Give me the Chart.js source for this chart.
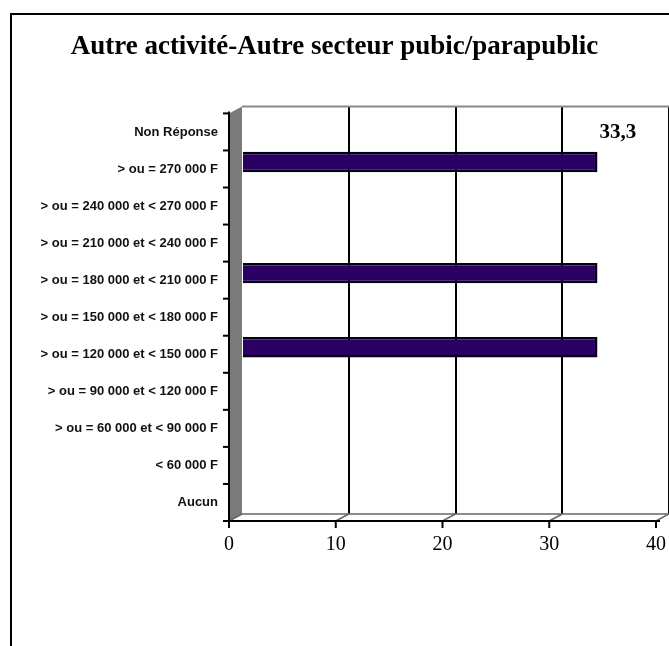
<!DOCTYPE html>
<html><head><meta charset="utf-8">
<script src="https://cdn.jsdelivr.net/npm/chart.js@4"></script>
<style>
html,body{margin:0;padding:0;background:#fff;overflow:hidden;}
#frame{position:absolute;left:10px;top:13px;width:720px;height:720px;border:2px solid #000;box-sizing:border-box;}
#wrap{position:absolute;left:0;top:0;width:669px;height:646px;}
</style></head>
<body>
<div id="frame"></div>
<div id="wrap"><canvas id="c" width="669" height="646"></canvas></div>
<script>
const titleText = "Autre activité-Autre secteur pubic/parapublic";
const categories = [
  "Non Réponse",
  "> ou = 270 000 F",
  "> ou = 240 000 et < 270 000 F",
  "> ou = 210 000 et < 240 000 F",
  "> ou = 180 000 et < 210 000 F",
  "> ou = 150 000 et < 180 000 F",
  "> ou = 120 000 et < 150 000 F",
  "> ou = 90 000 et < 120 000 F",
  "> ou = 60 000 et < 90 000 F",
  "< 60 000 F",
  "Aucun"
];
const values = [0, 33.3, 0, 0, 33.3, 0, 33.3, 0, 0, 0, 0];
const dataLabels = ["", "33,3", "", "", "", "", "", "", "", "", ""];
const xTicks = [0, 10, 20, 30, 40];

const DX = -13, DY = 7;

const depthPlugin = {
  id: 'depth',
  beforeDatasetsDraw(chart) {
    const ctx = chart.ctx, a = chart.chartArea;
    const xs = chart.scales.x;
    ctx.save();
    ctx.strokeStyle = '#888'; ctx.lineWidth = 2;
    ctx.beginPath(); ctx.moveTo(a.left, a.top); ctx.lineTo(a.right, a.top); ctx.stroke();
    ctx.fillStyle = '#7a7a7a';
    ctx.beginPath();
    ctx.moveTo(a.left, a.top); ctx.lineTo(a.left + DX, a.top + DY);
    ctx.lineTo(a.left + DX, a.bottom + DY); ctx.lineTo(a.left, a.bottom); ctx.closePath();
    ctx.fill();
    ctx.strokeStyle = '#666'; ctx.lineWidth = 1.5;
    ctx.beginPath(); ctx.moveTo(a.left, a.bottom); ctx.lineTo(a.right, a.bottom); ctx.stroke();
    xTicks.forEach(v => {
      const px = xs.getPixelForValue(v);
      ctx.beginPath(); ctx.moveTo(px, a.bottom); ctx.lineTo(px + DX, a.bottom + DY); ctx.stroke();
    });
    ctx.strokeStyle = '#000'; ctx.lineWidth = 2;
    const fx = a.left + DX, fy = a.bottom + DY;
    ctx.beginPath(); ctx.moveTo(fx, a.top + DY - 2); ctx.lineTo(fx, fy); ctx.lineTo(a.right + DX + 4, fy); ctx.stroke();
    xTicks.forEach(v => {
      const px = xs.getPixelForValue(v) + DX;
      ctx.beginPath(); ctx.moveTo(px, fy); ctx.lineTo(px, fy + 7); ctx.stroke();
    });
    const n = categories.length;
    for (let i = 0; i <= n; i++) {
      const py = a.top + (a.bottom - a.top) * i / n + DY;
      ctx.beginPath(); ctx.moveTo(fx, py); ctx.lineTo(fx - 6, py); ctx.stroke();
    }
    ctx.restore();
  },
  afterDatasetsDraw(chart) {
    const ctx = chart.ctx;
    const meta = chart.getDatasetMeta(0);
    ctx.save();
    ctx.font = 'bold 21px "Liberation Serif"';
    ctx.fillStyle = '#000';
    ctx.textAlign = 'left'; ctx.textBaseline = 'middle';
    meta.data.forEach((bar, i) => {
      if (dataLabels[i]) ctx.fillText(dataLabels[i], bar.x + 2, bar.y - 29);
    });
    ctx.restore();
  }
};

new Chart(document.getElementById('c'), {
  type: 'bar',
  data: {
    labels: categories,
    datasets: [{
      data: values,
      backgroundColor: '#2a0064',
      borderColor: '#05000f',
      borderWidth: 2.5,
      barPercentage: 0.55,
      categoryPercentage: 1.0
    }]
  },
  options: {
    indexAxis: 'y',
    responsive: false,
    animation: false,
    layout: { padding: { left: 0, right: 0, top: 0, bottom: 0 } },
    plugins: {
      legend: { display: false },
      tooltip: { enabled: false },
      title: {
        display: true,
        text: titleText,
        color: '#000',
        font: { family: '"Liberation Serif"', size: 27, weight: 'bold', lineHeight: 1.2 },
        padding: { top: 31, bottom: 43 }
      }
    },
    scales: {
      x: {
        min: 0, max: 40,
        afterBuildTicks(s) { s.ticks = xTicks.map(v => ({ value: v })); },
        afterFit(s) { s.height = 646 - 514; s.paddingLeft = 0; s.paddingRight = 0; },
        border: { display: false },
        grid: {
          drawTicks: false,
          color: ctx => (ctx.tick && ctx.tick.value === 0) ? 'rgba(0,0,0,0)' : '#000',
          lineWidth: 2
        },
        ticks: {
          labelOffset: DX,
          padding: 19,
          color: '#000',
          font: { family: '"Liberation Serif"', size: 20 }
        }
      },
      y: {
        afterFit(s) { s.width = 242; s.paddingTop = 0; s.paddingBottom = 0; },
        border: { display: false },
        grid: { display: false, drawTicks: false },
        ticks: {
          labelOffset: DY,
          padding: 24,
          color: '#111',
          font: { family: '"Liberation Sans"', size: 13, weight: 'bold' }
        }
      }
    }
  },
  plugins: [depthPlugin]
});
</script>
</body></html>
